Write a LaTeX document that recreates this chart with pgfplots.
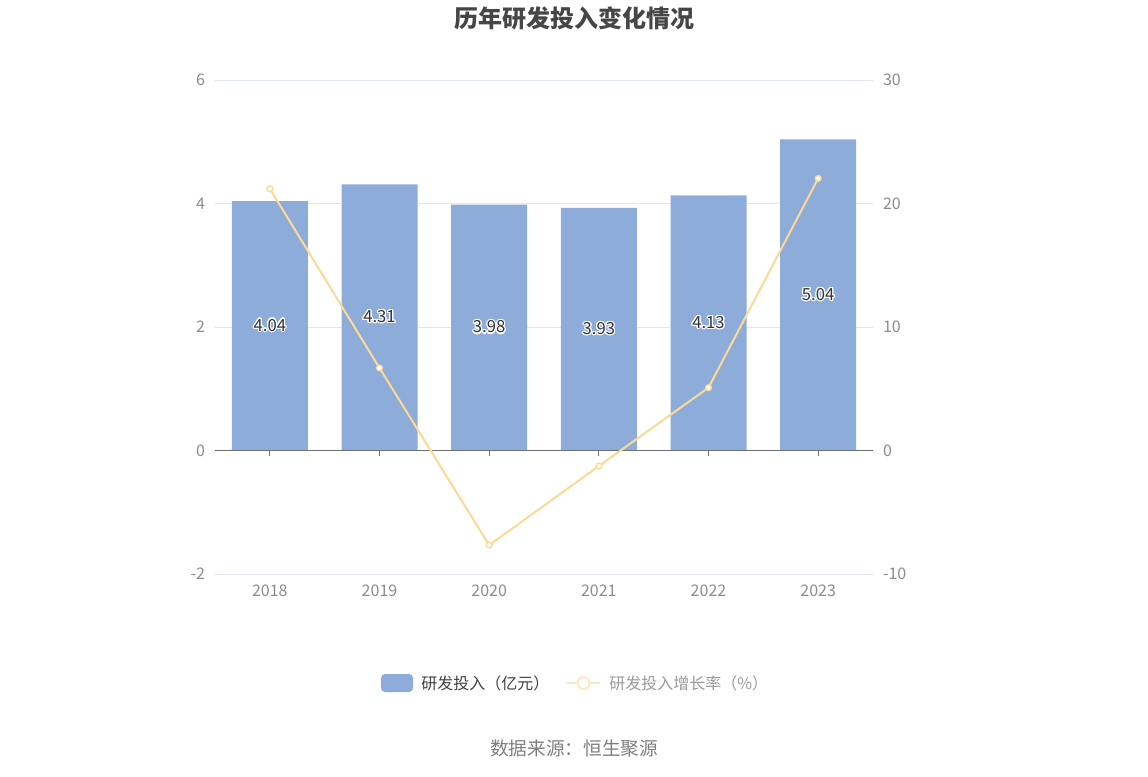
\documentclass[border=0pt]{standalone}
\usepackage{pgfplots}
\pgfplotsset{compat=1.18}
\usepackage{pgfplotstable}
\usepackage{fontspec}
\setmainfont{Noto Sans CJK SC}
\usepackage{contour}
\contourlength{0.9pt}
\definecolor{barblue}{HTML}{8DACDA}
\definecolor{lineyel}{HTML}{FDD995}
\definecolor{legyel}{HTML}{FDE8C4}
\definecolor{gridc}{HTML}{E0E6F1}
\definecolor{tickc}{HTML}{8C8C8C}
\definecolor{axisc}{HTML}{6E7079}
\definecolor{titlec}{HTML}{464646}
\definecolor{srcc}{HTML}{7F7F7F}

\pgfplotstableread{
x y
0 4.04
1 4.31
2 3.98
3 3.93
4 4.13
5 5.04
}\bardata
\pgfplotstableread{
x r
0 21.20
1 6.68
2 -7.66
3 -1.26
4 5.09
5 22.03
}\ratedata

\begin{document}
\begin{tikzpicture}
\path[use as bounding box] (0,0) rectangle (861pt,582pt);
\begin{axis}[
  at={(161.25pt,151.5pt)}, anchor=south west,
  scale only axis, width=493.5pt, height=370.5pt,
  xmin=-0.5, xmax=5.5, ymin=-2, ymax=6,
  ytick={-2,0,2,4,6},
  xtick={0,1,2,3,4,5},
  xticklabels={2018,2019,2020,2021,2022,2023},
  axis line style={draw=none},
  major tick length=0pt,
  ymajorgrids, grid style={gridc, line width=0.75pt},
  tick label style={font=\fontsize{12}{14}\selectfont, text=tickc},
  /pgf/number format/assume math mode=true,
  yticklabel style={xshift=-4pt},
  xticklabel style={yshift=-5pt},
  clip=false,
]
\addplot[ybar, bar width=57pt, fill=barblue, draw=none] table[x=x, y=y] {\bardata};
\draw[axisc, line width=0.75pt] (axis cs:-0.5,0) -- (axis cs:5.5,0);
\pgfplotsinvokeforeach{0,1,2,3,4,5}{\draw[axisc, line width=0.75pt] (axis cs:#1,0) -- ++(0pt,-3.75pt);}
\addplot[draw=none, mark=none, point meta=explicit,
  nodes near coords={\contour{white}{\pgfmathprintnumber[fixed,precision=2,fixed zerofill]{\pgfplotspointmeta}}},
  every node near coord/.style={anchor=center, font=\fontsize{12.5}{14}\selectfont, text=black!80}]
  table[x=x, y expr=\thisrow{y}/2, meta=y] {\bardata};
\end{axis}
\begin{axis}[
  at={(161.25pt,151.5pt)}, anchor=south west,
  scale only axis, width=493.5pt, height=370.5pt,
  xmin=-0.5, xmax=5.5, ymin=-10, ymax=30,
  ytick={-10,0,10,20,30},
  xtick=\empty,
  yticklabel pos=right,
  axis line style={draw=none},
  major tick length=0pt,
  tick label style={font=\fontsize{12}{14}\selectfont, text=tickc},
  /pgf/number format/assume math mode=true,
  yticklabel style={xshift=4pt},
  clip=false,
]
\addplot[lineyel, line width=1.5pt, mark=*, mark size=2.2pt,
  mark options={fill=white, draw=lineyel, line width=1pt}] table[x=x, y=r] {\ratedata};
\end{axis}
% title
\node[font=\fontsize{18}{21}\selectfont\bfseries, text=titlec] at (430.5pt,568.5pt) {历年研发投入变化情况};
% legend
\fill[barblue, rounded corners=3pt] (285.75pt,63pt) rectangle (309.75pt,76.5pt);
\node[anchor=west, font=\fontsize{12}{14}\selectfont, text=black!75, inner sep=0pt] at (315.75pt,69.75pt) {研发投入（亿元）};
\draw[legyel, line width=1.5pt] (425.25pt,69.75pt) -- (450pt,69.75pt);
\draw[legyel, line width=1.5pt, fill=white] (437.6pt,69.75pt) circle (4.5pt);
\node[anchor=west, font=\fontsize{12}{14}\selectfont, text=black!40, inner sep=0pt] at (456.75pt,69.75pt) {研发投入增长率（\%）};
% source
\node[font=\fontsize{14}{16}\selectfont, text=srcc] at (430.5pt,21pt) {数据来源：恒生聚源};
\end{tikzpicture}
\end{document}
